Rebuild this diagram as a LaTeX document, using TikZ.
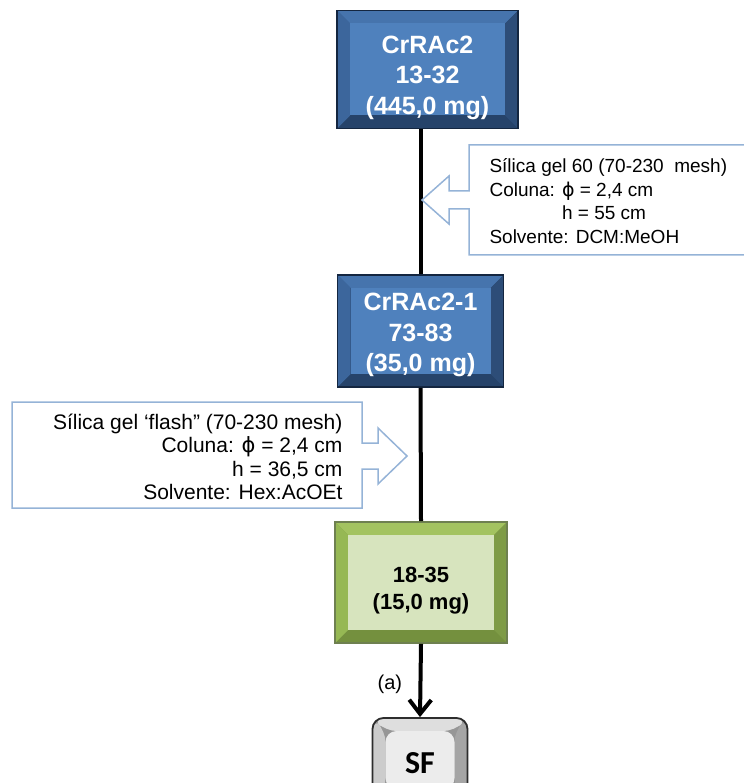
\documentclass[tikz,border=0pt]{standalone}
\usepackage{fontspec}
\setmainfont{Liberation Sans}
\newfontfamily\calfont{Carlito}
\newfontfamily\symfont{DejaVu Sans}
\usetikzlibrary{arrows.meta}

\definecolor{faceblue}{RGB}{79,129,189}
\definecolor{topblue}{RGB}{70,116,173}
\definecolor{leftblue}{RGB}{60,102,156}
\definecolor{rightblue}{RGB}{45,77,120}
\definecolor{botblue}{RGB}{38,67,106}
\definecolor{edgeblue}{RGB}{20,38,64}
\definecolor{facegreen}{RGB}{215,228,190}
\definecolor{topgreen}{RGB}{163,195,96}
\definecolor{leftgreen}{RGB}{150,184,84}
\definecolor{rightgreen}{RGB}{126,155,70}
\definecolor{botgreen}{RGB}{116,144,62}
\definecolor{edgegreen}{RGB}{110,128,80}
\definecolor{facegray}{RGB}{236,236,236}
\definecolor{topgray}{RGB}{222,222,222}
\definecolor{leftgray}{RGB}{204,204,204}
\definecolor{rightgray}{RGB}{165,165,165}
\definecolor{botgray}{RGB}{150,150,150}
\definecolor{edgegray}{RGB}{45,45,45}
\definecolor{calloutblue}{RGB}{149,179,215}

\tikzset{
  bevelbox/.style n args={6}{draw=#6, line width=1.8pt, fill=#5,
    path picture={
      \coordinate (pa) at (path picture bounding box.north west);
      \coordinate (pb) at (path picture bounding box.north east);
      \coordinate (pc) at (path picture bounding box.south east);
      \coordinate (pd) at (path picture bounding box.south west);
      \fill[#2] (pa) -- (pb) -- ([shift={(-13pt,-13pt)}]pb) -- ([shift={(13pt,-13pt)}]pa) -- cycle;
      \fill[#3] (pa) -- (pd) -- ([shift={(13pt,13pt)}]pd) -- ([shift={(13pt,-13pt)}]pa) -- cycle;
      \fill[#4] (pb) -- (pc) -- ([shift={(-13pt,13pt)}]pc) -- ([shift={(-13pt,-13pt)}]pb) -- cycle;
      \fill[#1] ([shift={(13pt,-13pt)}]pa) rectangle ([shift={(-13pt,13pt)}]pc);}},
  bluebox/.style={bevelbox={faceblue}{topblue}{leftblue}{rightblue}{botblue}{edgeblue},
    text=white, align=center, font=\bfseries\fontsize{25}{30.5}\selectfont},
  greenbox/.style={bevelbox={facegreen}{topgreen}{leftgreen}{rightgreen}{botgreen}{edgegreen},
    align=center, font=\bfseries\fontsize{22}{27}\selectfont},
  graybox/.style={bevelbox={facegray}{topgray}{leftgray}{rightgray}{botgray}{edgegray},
    rounded corners=11pt, font=\calfont\bfseries\fontsize{32}{32}\selectfont},
  link/.style={line width=4pt},
  callout/.style={draw=calloutblue, line width=1.5pt}
}
\newcommand{\diam}{{\symfont ϕ}}
\newcommand{\drop}[1]{\rule{0pt}{#1}}

\begin{document}
\begin{tikzpicture}[x=1pt,y=-1pt]
\useasboundingbox (0,0) rectangle (743,783);
% Fractions
\node[bluebox, minimum width=181pt, minimum height=118pt] (crude) at (427.5,69.5) {\drop{34pt}CrRAc2\\13-32\\(445,0 mg)};
\node[bluebox, minimum width=166pt, minimum height=112pt] (frac1) at (420.5,331) {\drop{26pt}CrRAc2-1\\73-83\\(35,0 mg)};
\node[greenbox, minimum width=172pt, minimum height=121pt] (frac2) at (421,582.5) {\drop{32pt}18-35\\(15,0 mg)};
\node[graybox, minimum width=95pt, minimum height=84pt] (sf) at (420,760) {\drop{27pt}SF};
% Connectors
\draw[link] (frac1.north |- crude.south) -- (frac1.north);
\draw[link] (frac1.south) -- (frac2.north);
\draw[link, -{Straight Barb[length=14pt,width=22pt]}] (frac2.south) -- (sf.north)
  node[pos=0.55, left=13pt, font=\fontsize{20}{20}\selectfont] {(a)};
% Conditions, first column
\draw[callout] (469,145) -- (750,145) -- (750,255) -- (469,255) -- (469,209) -- (449,209)
  -- (449,224) -- (422,200) -- (449,176) -- (449,191) -- (469,191) -- cycle;
\node[anchor=west, align=left, font=\fontsize{19}{23.5}\selectfont] (cond1) at (486,201)
  {Sílica gel 60 (70-230\ \ mesh)\\Coluna: \diam{} = 2,4 cm\\\hphantom{Coluna: }h = 55 cm\\Solvente: DCM:MeOH};
% Conditions, flash column
\draw[callout] (12,402) -- (362,402) -- (362,443) -- (378,443) -- (378,428) -- (407,456)
  -- (378,484) -- (378,469) -- (362,469) -- (362,508) -- (12,508) -- cycle;
\node[anchor=east, align=right, font=\fontsize{21}{23.5}\selectfont] (cond2) at (346,457)
  {Sílica gel ‘flash” (70-230 mesh)\\Coluna: \diam{} = 2,4 cm\\h = 36,5 cm\\Solvente: Hex:AcOEt};
\end{tikzpicture}
\end{document}
